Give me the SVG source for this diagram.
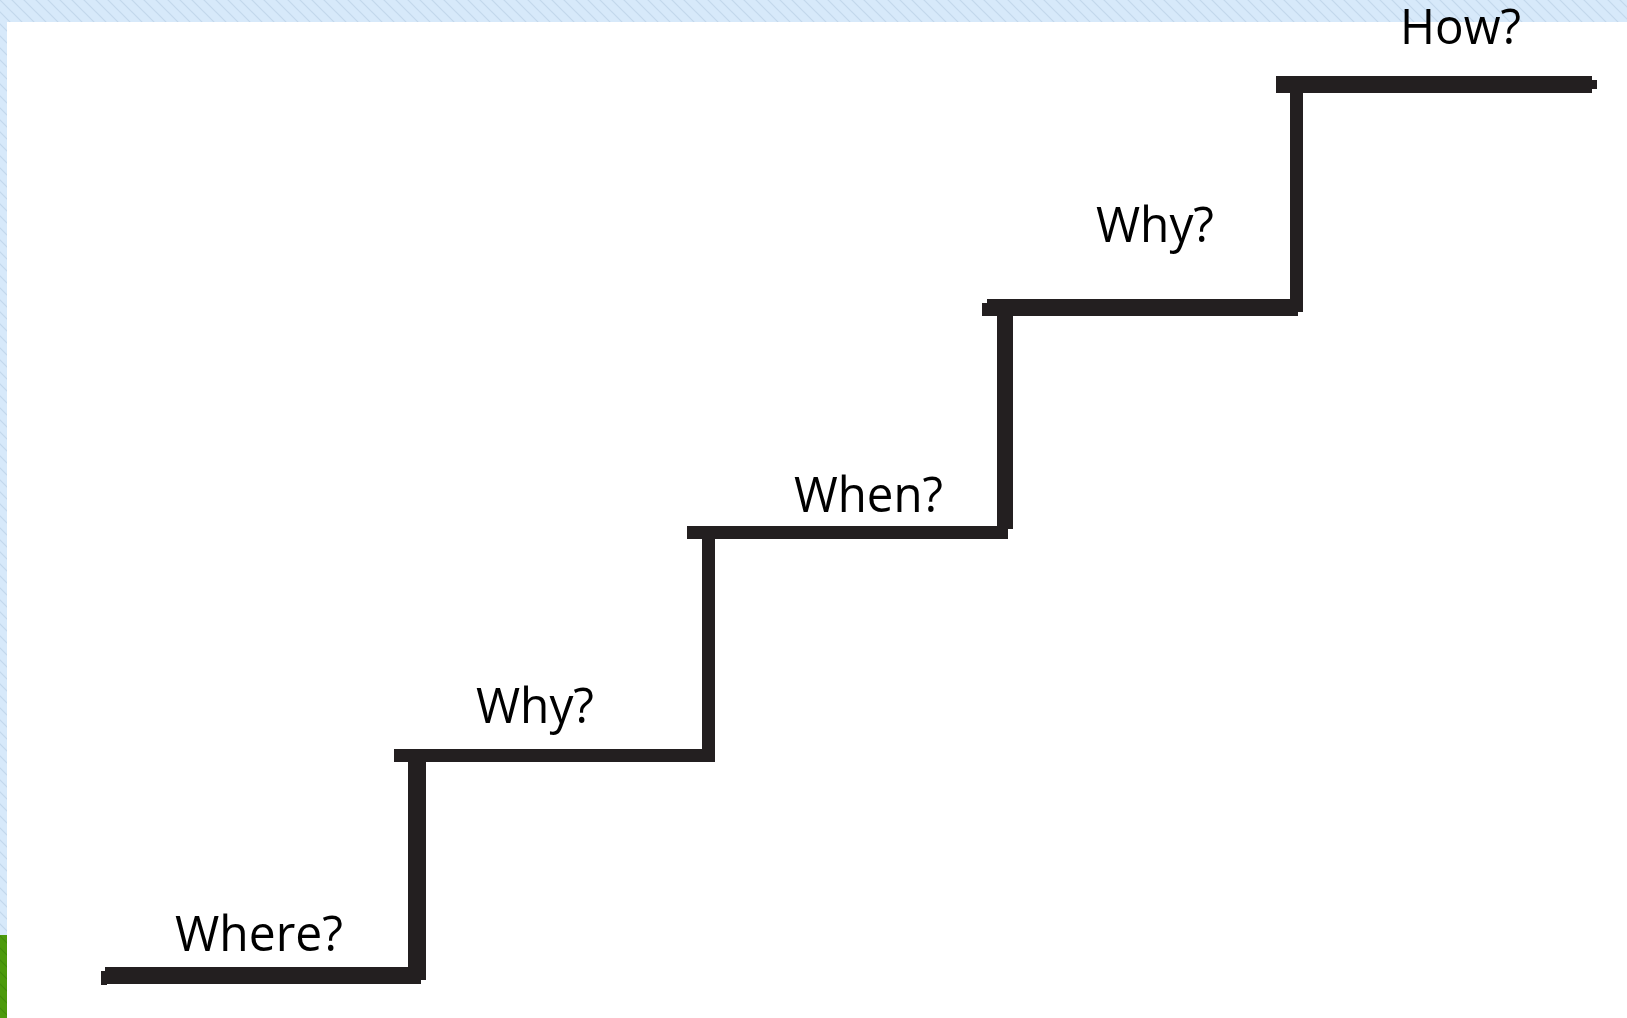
<svg xmlns="http://www.w3.org/2000/svg" width="1627" height="1018" viewBox="0 0 1627 1018">
  <defs>
    <pattern id="hatch" width="12" height="12" patternUnits="userSpaceOnUse">
      <rect width="12" height="12" fill="#d7e9fa"/>
      <path d="M-3,-3 L15,15 M-3,9 L3,15 M9,-3 L15,3" stroke="#c3d8ec" stroke-width="1.2"/>
    </pattern>
    <pattern id="hatchG" width="12" height="12" patternUnits="userSpaceOnUse">
      <rect width="12" height="12" fill="#4c9a0c"/>
      <path d="M-3,-3 L15,15 M-3,9 L3,15 M9,-3 L15,3" stroke="#3f8a08" stroke-width="1.2"/>
    </pattern>
  </defs>
  <style>
    .bar { fill: #231f20; }
    .lbl { font-family: "Open Sans", "Noto Sans", "DejaVu Sans", sans-serif; font-size: 50px; fill: #000; }
  </style>
  <rect x="0" y="0" width="1627" height="1018" fill="#ffffff"/>
  <rect x="0" y="0" width="1627" height="22" fill="url(#hatch)"/>
  <rect x="0" y="22" width="7" height="913" fill="url(#hatch)"/>
  <rect x="0" y="935" width="7" height="83" fill="url(#hatchG)"/>

  <g id="connectors">
    <rect class="bar" x="408" y="755" width="18" height="225"/>
    <rect class="bar" x="702" y="531" width="13" height="230"/>
    <rect class="bar" x="997" y="310" width="16" height="219"/>
    <rect class="bar" x="1290" y="90" width="13" height="222"/>
  </g>

  <g id="step-where">
    <rect class="bar" x="105" y="967" width="316" height="17"/>
    <rect class="bar" x="101" y="971" width="6" height="14"/>
    <text class="lbl" x="175" y="951" textLength="168" lengthAdjust="spacingAndGlyphs">Where?</text>
  </g>
  <g id="step-why-1">
    <rect class="bar" x="394" y="749" width="321" height="13"/>
    <text class="lbl" x="476" y="723" textLength="118" lengthAdjust="spacingAndGlyphs">Why?</text>
  </g>
  <g id="step-when">
    <rect class="bar" x="687" y="526" width="321" height="13"/>
    <text class="lbl" x="794" y="512" textLength="149" lengthAdjust="spacingAndGlyphs">When?</text>
  </g>
  <g id="step-why-2">
    <rect class="bar" x="987" y="299" width="311" height="17"/>
    <rect class="bar" x="982" y="303" width="6" height="13"/>
    <text class="lbl" x="1096" y="242" textLength="118" lengthAdjust="spacingAndGlyphs">Why?</text>
  </g>
  <g id="step-how">
    <rect class="bar" x="1276" y="76" width="316" height="17"/>
    <rect class="bar" x="1591" y="80" width="6" height="9"/>
    <text class="lbl" x="1400" y="44" textLength="121" lengthAdjust="spacingAndGlyphs">How?</text>
  </g>
</svg>
